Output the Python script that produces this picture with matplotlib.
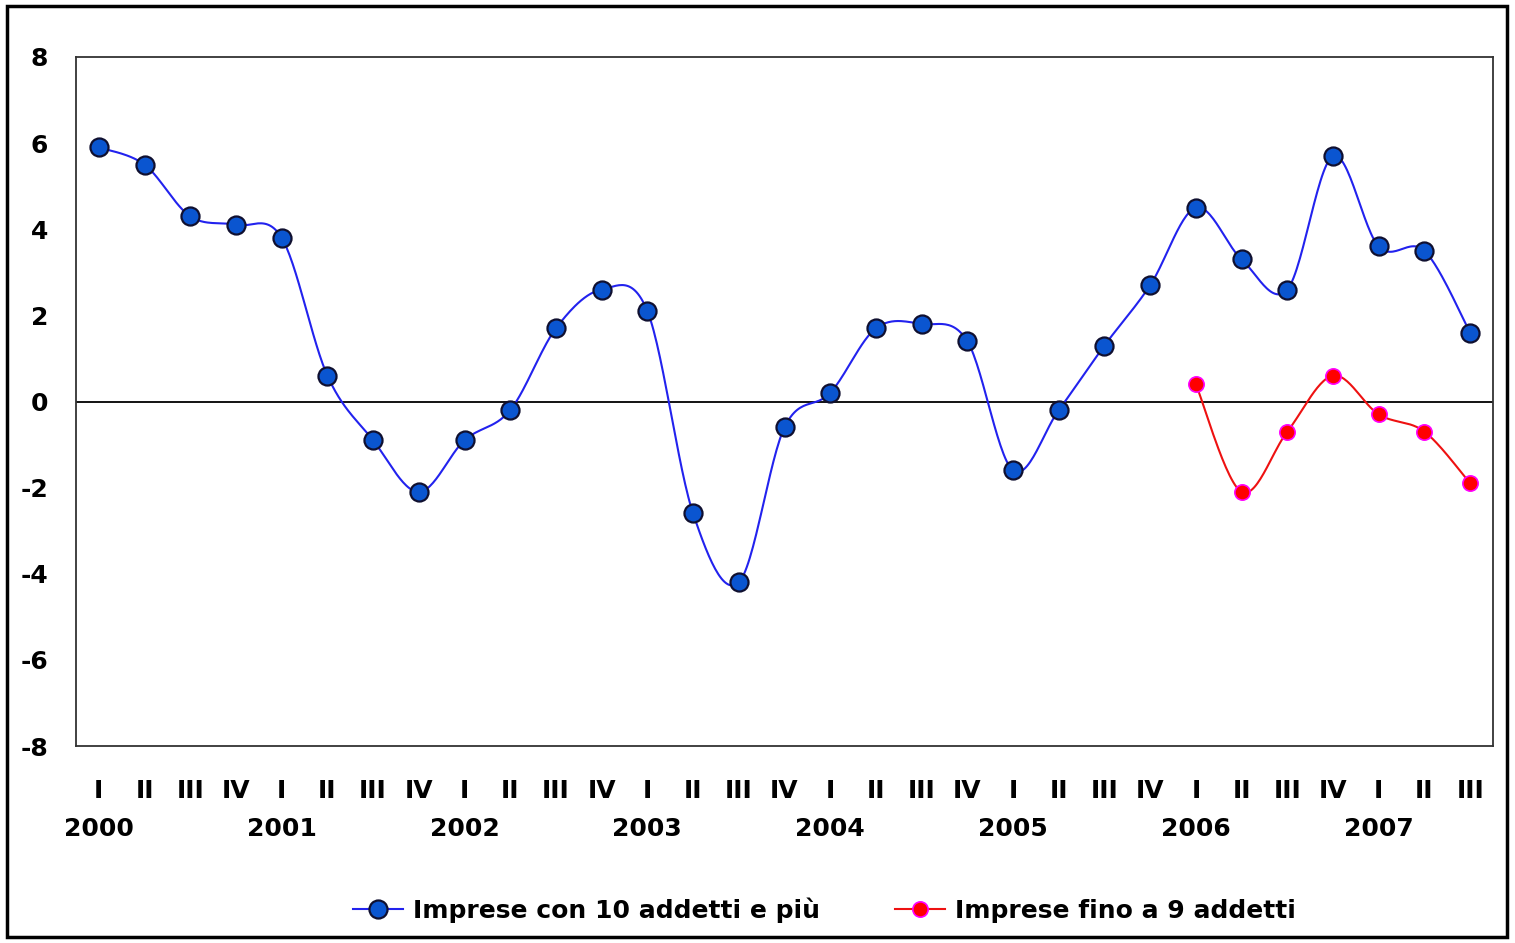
import numpy as np
import matplotlib
matplotlib.use('Agg')
import matplotlib.pyplot as plt
from matplotlib.lines import Line2D

# quarterly data, 2000 Q1 - 2007 Q3
quarters = ['I', 'II', 'III', 'IV'] * 7 + ['I', 'II', 'III']
years = ['2000', '2001', '2002', '2003', '2004', '2005', '2006', '2007']

big_firms = [5.9, 5.5, 4.3, 4.1, 3.8, 0.6, -0.9, -2.1,
             -0.9, -0.2, 1.7, 2.6, 2.1, -2.6, -4.2, -0.6,
             0.2, 1.7, 1.8, 1.4, -1.6, -0.2, 1.3, 2.7,
             4.5, 3.3, 2.6, 5.7, 3.6, 3.5, 1.6]
# small firms only from 2006 Q1
small_start = 24
small_firms = [0.4, -2.1, -0.7, 0.6, -0.3, -0.7, -1.9]

plt.rcParams['font.family'] = ['DejaVu Sans']
plt.rcParams['font.weight'] = 'bold'
plt.rcParams['axes.unicode_minus'] = False


def smooth(x, y, n=30):
    # excel-like smoothed line: catmull-rom segments as cubic bezier
    x = np.asarray(x, float)
    y = np.asarray(y, float)
    px = np.concatenate([[x[0]], x, [x[-1]]])
    py = np.concatenate([[y[0]], y, [y[-1]]])
    t = np.linspace(0, 1, n)
    xs, ys = [], []
    for i in range(1, len(px) - 2):
        p0 = np.array([px[i], py[i]])
        p3 = np.array([px[i + 1], py[i + 1]])
        p1 = p0 + (np.array([px[i + 1], py[i + 1]]) - np.array([px[i - 1], py[i - 1]])) / 6
        p2 = p3 - (np.array([px[i + 2], py[i + 2]]) - np.array([px[i], py[i]])) / 6
        b = ((1 - t) ** 3)[:, None] * p0 + (3 * (1 - t) ** 2 * t)[:, None] * p1 \
            + (3 * (1 - t) * t ** 2)[:, None] * p2 + (t ** 3)[:, None] * p3
        xs.append(b[:, 0])
        ys.append(b[:, 1])
    return np.concatenate(xs), np.concatenate(ys)


fig = plt.figure(figsize=(15.15, 9.43), dpi=100)
ax = fig.add_axes([76 / 1515, 1 - 746 / 943, (1493 - 76) / 1515, (746 - 57) / 943])

xb = np.arange(len(big_firms))
xs = np.arange(small_start, small_start + len(small_firms))

blue = '#0a55d0'
red = '#ff0000'
fs = 18

ax.axhline(0, color='black', lw=1.3, zorder=1)

sx, sy = smooth(xb, big_firms)
ax.plot(sx, sy, color='#2222ee', lw=1.5, zorder=2)
ax.plot(xb, big_firms, ls='none', marker='o', ms=13, mfc=blue,
        mec='#101030', mew=1.6, zorder=3)

sx, sy = smooth(xs, small_firms)
ax.plot(sx, sy, color='#ee1111', lw=1.5, zorder=2)
ax.plot(xs, small_firms, ls='none', marker='o', ms=11, mfc=red,
        mec='#ff00ff', mew=1.2, zorder=3)

ax.set_xlim(-0.5, len(big_firms) - 0.5)
ax.set_ylim(-8, 8)
ax.set_yticks(range(-8, 9, 2))
ax.set_xticks(xb)
ax.set_xticklabels(quarters)
ax.tick_params(axis='both', length=0, labelsize=fs)
ax.tick_params(axis='x', pad=24)
ax.tick_params(axis='y', pad=20)
for lab in ax.get_xticklabels() + ax.get_yticklabels():
    lab.set_fontweight('bold')

for i, yr in enumerate(years):
    ax.annotate(yr, xy=(i * 4, 0), xycoords=('data', 'axes fraction'),
                xytext=(0, -51), textcoords='offset points', ha='center',
                va='top', fontsize=fs, fontweight='bold')

for s in ax.spines.values():
    s.set_color('#333333')
    s.set_linewidth(1.3)

handles = [
    Line2D([], [], color='#2222ee', lw=1.5, marker='o', ms=13, mfc=blue,
           mec='#101030', mew=1.6),
    Line2D([], [], color='#ee1111', lw=1.5, marker='o', ms=11, mfc=red,
           mec='#ff00ff', mew=1.2),
]
fig.legend(handles, ['Imprese con 10 addetti e più', 'Imprese fino a 9 addetti'],
           loc='center', bbox_to_anchor=(0.544, 1 - 910 / 943), ncol=2,
           frameon=False, handlelength=2.0, handletextpad=0.4,
           columnspacing=3, prop={'weight': 'bold', 'size': fs})

# outer frame
fig.patches.append(plt.Rectangle((7 / 1515, 6 / 943), 1500 / 1515, 931 / 943,
                                 transform=fig.transFigure, fill=False,
                                 edgecolor='black', lw=2.5))

fig.savefig('out.png', dpi=100)
